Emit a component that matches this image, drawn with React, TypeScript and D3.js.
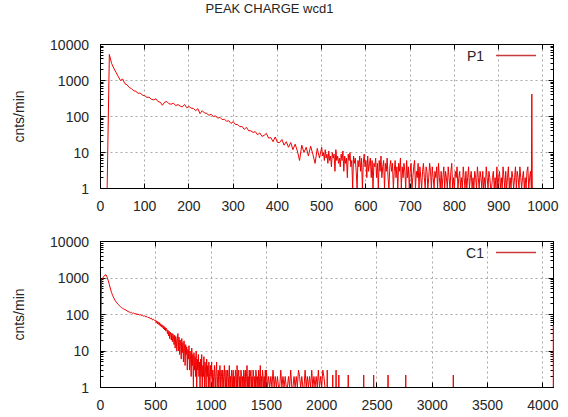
import React from 'react';
import * as d3 from 'd3';

const TITLE = 'PEAK CHARGE wcd1';
const Y_LABEL = 'cnts/min';
const Y_TICKS = [1, 10, 100, 1000, 10000];
const P1_X_TICKS = [0, 100, 200, 300, 400, 500, 600, 700, 800, 900, 1000];
const C1_X_TICKS = [0, 500, 1000, 1500, 2000, 2500, 3000, 3500, 4000];
const P1_NAME = 'P1';
const C1_NAME = 'C1';
const P1_X_MAX = 1024;
const C1_X_MAX = 4096;

// P1 counts: channels 0..495, one value every 5 channels
const p1Head = [
  0, 0, 0, 0, 5300, 3000, 2200, 1700, 1300, 1000,
  1100, 820, 760, 640, 590, 520, 500, 440, 450, 390,
  380, 340, 345, 300, 290, 310, 260, 250, 205, 250,
  260, 225, 220, 235, 200, 215, 195, 185, 215, 175,
  190, 170, 168, 145, 165, 120, 145, 125, 122, 108,
  115, 100, 104, 90, 95, 82, 84, 74, 76, 64,
  72, 60, 60, 52, 53, 44, 50, 40, 40, 36,
  38, 31, 35, 28, 30, 34, 25, 26, 20, 27,
  19, 19, 23, 16, 20, 14, 19, 12, 17, 11,
  6, 16, 10, 14, 8, 15, 9, 5, 13, 7,
];
// P1 counts: channels 500..1022, one value every 2 channels
const p1Tail = [
  14, 8, 10, 6, 12, 7, 9, 5, 11, 6, 8, 4, 10, 7, 9, 3, 12, 6, 8, 5,
  7, 4, 9, 6, 11, 3, 8, 5, 7, 2, 9, 6, 10, 4, 6, 0, 8, 5, 7, 3,
  0, 6, 4, 8, 3, 7, 0, 5, 9, 4, 6, 2, 8, 3, 5, 7, 2, 6, 0, 5,
  4, 7, 2, 5, 0, 6, 3, 8, 2, 4, 6, 0, 5, 3, 7, 2, 0, 4, 6, 3,
  5, 0, 3, 6, 2, 4, 0, 5, 3, 7, 0, 4, 2, 5, 3, 0, 6, 2, 4, 0,
  3, 5, 0, 2, 4, 6, 0, 3, 2, 5, 0, 4, 2, 0, 3, 5, 2, 0, 4, 3,
  0, 2, 5, 3, 0, 4, 2, 0, 3, 2, 4, 0, 5, 2, 0, 3, 0, 2, 4, 0,
  3, 2, 0, 4, 2, 0, 3, 5, 0, 2, 0, 3, 2, 4, 0, 2, 3, 0, 2, 0,
  4, 2, 0, 3, 0, 2, 4, 0, 2, 3, 0, 2, 0, 3, 2, 0, 4, 2, 0, 3,
  2, 0, 3, 0, 2, 0, 4, 2, 0, 3, 2, 0, 0, 2, 3, 0, 2, 0, 4, 0,
  2, 3, 0, 2, 0, 4, 2, 0, 3, 0, 2, 4, 0, 2, 0, 3, 2, 0, 2, 4,
  0, 3, 2, 0, 4, 2, 0, 2, 3, 0, 2, 0, 3, 4, 0, 2, 3, 0, 0, 0,
  0, 0, 0, 0, 0, 0, 0, 0, 0, 0, 0, 0, 0, 0, 0, 0, 0, 0, 0, 0,
  0, 0,
];
// isolated single-channel spikes [channel, cnts/min]
const p1Spikes: [number, number][] = [[975, 420]];

// C1 counts: channels 0..490 every 10
const c1Head = [
  12, 900, 1000, 1100, 1200, 1230, 1050, 850, 660, 500,
  400, 330, 285, 250, 225, 205, 190, 175, 165, 155,
  148, 142, 137, 132, 126, 120, 118, 112, 115, 108,
  110, 104, 106, 100, 102, 97, 99, 93, 95, 90,
  92, 86, 88, 82, 84, 76, 80, 71, 74, 68,
];
// C1 counts: channels 500..1495 every 5
const c1Body = [
  70, 60, 66, 55, 63, 58, 52, 60, 49, 55, 46, 52, 44, 50, 40, 47, 38, 44, 35, 42,
  40, 30, 37, 26, 35, 22, 33, 28, 20, 31, 18, 29, 24, 15, 27, 12, 25, 20, 10, 22,
  30, 10, 24, 8, 20, 14, 6, 22, 9, 17, 5, 19, 12, 4, 15, 8, 13, 3, 11, 6,
  14, 3, 10, 6, 2, 12, 4, 8, 0, 9, 3, 7, 2, 10, 0, 6, 3, 8, 2, 5,
  0, 6, 2, 8, 0, 4, 2, 7, 0, 5, 3, 0, 6, 2, 4, 0, 5, 2, 0, 4,
  2, 5, 0, 3, 2, 0, 4, 2, 0, 3, 5, 0, 2, 3, 0, 2, 4, 0, 3, 2,
  0, 3, 2, 0, 4, 2, 0, 3, 0, 2, 3, 0, 2, 4, 0, 2, 0, 3, 2, 0,
  3, 0, 2, 0, 3, 2, 0, 4, 0, 2, 3, 0, 2, 0, 3, 2, 0, 2, 0, 3,
  2, 0, 3, 0, 2, 4, 0, 2, 0, 3, 0, 2, 3, 0, 2, 0, 3, 2, 0, 2,
  0, 3, 2, 0, 2, 0, 3, 0, 2, 4, 0, 2, 0, 3, 2, 0, 2, 0, 3, 0,
];
// C1 counts: channels 1500..2030 every 10
const c1Tail = [
  3, 0, 2, 0, 2, 0, 3, 0, 2, 0,
  2, 0, 0, 3, 0, 2, 0, 2, 0, 0,
  2, 0, 3, 0, 0, 2, 0, 2, 0, 3,
  2, 0, 2, 0, 0, 3, 0, 2, 0, 2,
  0, 3, 0, 2, 0, 2, 0, 3, 0, 2,
  0, 3, 2, 0,
];
const c1Spikes: [number, number][] = [
  [2050, 3], [2100, 2.2], [2130, 3], [2155, 2.2], [2240, 2.2],
  [2380, 2.2], [2470, 2.2], [2600, 2.2], [2760, 2.2], [3190, 2.2], [4095, 50],
];

type Segment = { start: number; step: number; values: number[] };

function buildSeries(segments: Segment[], spikes: [number, number][]) {
  const pts: [number, number][] = [];
  segments.forEach((s) => s.values.forEach((v, i) => pts.push([s.start + i * s.step, v])));
  spikes.forEach(([cx, v]) => {
    pts.push([cx - 1, 0], [cx, v], [cx + 1, 0]);
  });
  pts.sort((a, b) => a[0] - b[0]);
  return pts;
}

const FONT = "'Liberation Sans', Arial, Helvetica, sans-serif";
const TEXT = '#262626';
const LINE = '#ee0000';

type PanelProps = {
  id: string;
  top: number;
  bottom: number;
  xMax: number;
  xTicks: number[];
  series: [number, number][];
  name: string;
};

function Panel({ id, top, bottom, xMax, xTicks, series, name }: PanelProps) {
  const L = 100.5;
  const R = 553.5;
  const x = d3.scaleLinear().domain([0, xMax]).range([L, R]);
  const y = d3.scaleLog().domain([1, 10000]).range([bottom, top]);
  const minor: number[] = [];
  for (let d = 1; d < 10000; d *= 10) for (let k = 2; k <= 9; k++) minor.push(d * k);
  const line = d3
    .line<[number, number]>()
    .x((d) => x(d[0]))
    .y((d) => y(Math.max(d[1], 1)));
  const px = (v: number) => Math.round(x(v) - 0.5) + 0.5;
  const py = (v: number) => Math.round(y(v) - 0.5) + 0.5;
  const MAJ = 5;
  const MIN = 3;
  return (
    <g>
      <defs>
        <clipPath id={id}>
          <rect x={L + 0.5} y={top} width={R - L + 0.5} height={bottom - top - 0.5} />
        </clipPath>
      </defs>
      {xTicks
        .filter((t) => t > 0)
        .map((t) => (
          <line key={'gx' + t} x1={px(t)} x2={px(t)} y1={top} y2={bottom} stroke="#a8a8a8" strokeDasharray="2,3" />
        ))}
      {Y_TICKS.filter((t) => t > 1 && t < 10000).map((t) => (
        <line key={'gy' + t} x1={L} x2={R} y1={py(t)} y2={py(t)} stroke="#a8a8a8" strokeDasharray="2,3" />
      ))}
      {xTicks.map((t) => (
        <g key={'tx' + t}>
          <line x1={px(t)} x2={px(t)} y1={bottom} y2={bottom - MAJ} stroke="#000" />
          <line x1={px(t)} x2={px(t)} y1={top} y2={top + MAJ} stroke="#000" />
          <text x={x(t)} y={bottom + 22} textAnchor="middle" fontSize={14} fontFamily={FONT} fill={TEXT}>
            {t}
          </text>
        </g>
      ))}
      {Y_TICKS.map((t) => (
        <g key={'ty' + t}>
          <line x1={L} x2={L + MAJ} y1={py(t)} y2={py(t)} stroke="#000" />
          <line x1={R} x2={R - MAJ} y1={py(t)} y2={py(t)} stroke="#000" />
          <text x={89} y={y(t) + 5} textAnchor="end" fontSize={14} fontFamily={FONT} fill={TEXT}>
            {t}
          </text>
        </g>
      ))}
      {minor.map((t) => (
        <g key={'my' + t}>
          <line x1={L} x2={L + MIN} y1={py(t)} y2={py(t)} stroke="#000" />
          <line x1={R} x2={R - MIN} y1={py(t)} y2={py(t)} stroke="#000" />
        </g>
      ))}
      <rect x={L} y={top} width={R - L} height={bottom - top} fill="none" stroke="#000" strokeWidth={1} />
      <path d={line(series) || ''} fill="none" stroke={LINE} strokeWidth={1} clipPath={`url(#${id})`} />
      <text
        transform={`translate(24,${(top + bottom) / 2}) rotate(-90)`}
        textAnchor="middle"
        fontSize={14}
        fontFamily={FONT}
        fill={TEXT}
      >
        {Y_LABEL}
      </text>
      <text x={484} y={top + 16} textAnchor="end" fontSize={14} fontFamily={FONT} fill={TEXT}>
        {name}
      </text>
      <line x1={496} x2={536} y1={top + 11} y2={top + 11} stroke="#cc3b3b" strokeWidth={1.5} />
    </g>
  );
}

export default function App() {
  const p1Series = buildSeries(
    [
      { start: 0, step: 5, values: p1Head },
      { start: 500, step: 2, values: p1Tail },
    ],
    p1Spikes,
  );
  const c1Series = buildSeries(
    [
      { start: 0, step: 10, values: c1Head },
      { start: 500, step: 5, values: c1Body },
      { start: 1500, step: 10, values: c1Tail },
    ],
    c1Spikes,
  );
  return (
    <svg width={568} height={417} style={{ position: 'absolute', left: 0, top: 0, background: '#fff' }}>
      <rect x={0} y={0} width={568} height={417} fill="#fff" />
      <text x={269.5} y={12.5} textAnchor="middle" fontSize={13} fontFamily={FONT} fill={TEXT}>
        {TITLE}
      </text>
      <Panel id="clipP1" top={44.5} bottom={188.5} xMax={P1_X_MAX} xTicks={P1_X_TICKS} series={p1Series} name={P1_NAME} />
      <Panel id="clipC1" top={241.5} bottom={387.5} xMax={C1_X_MAX} xTicks={C1_X_TICKS} series={c1Series} name={C1_NAME} />
    </svg>
  );
}
